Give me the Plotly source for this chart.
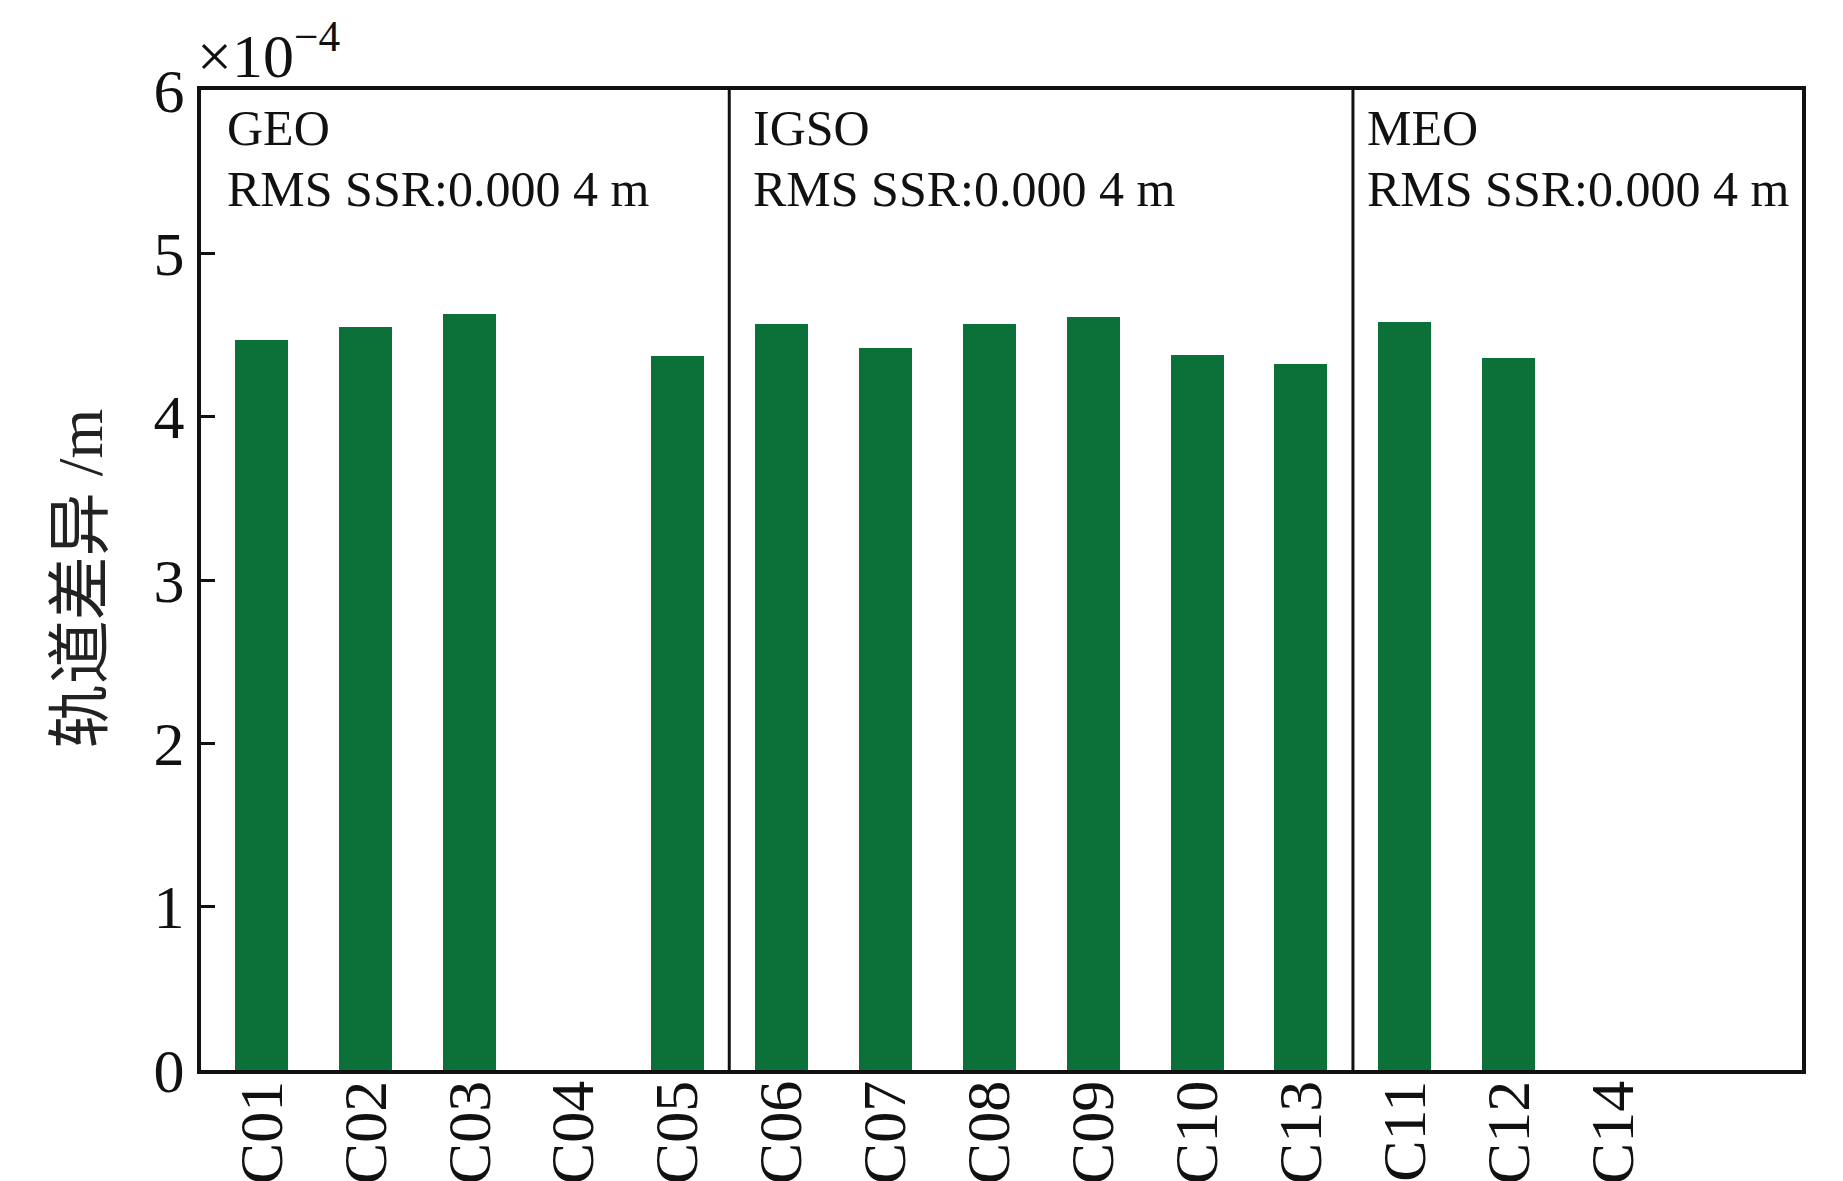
import plotly.graph_objects as go

satellites = ["C01", "C02", "C03", "C04", "C05", "C06", "C07", "C08", "C09", "C10", "C13", "C11", "C12", "C14"]
orbit_diff_e4 = [4.47, 4.55, 4.63, 0, 4.37, 4.57, 4.42, 4.57, 4.61, 4.38, 4.32, 4.58, 4.36, 0]
group_names = ["GEO", "IGSO", "MEO"]
group_rms = ["RMS SSR:0.000 4 m", "RMS SSR:0.000 4 m", "RMS SSR:0.000 4 m"]
group_label_x = [-0.355, 4.71, 10.615]
group_bounds = [4.5, 10.5]
y_ticks = [0, 1, 2, 3, 4, 5, 6]

serif = "Liberation Serif, Times New Roman, serif"
green = "#0b7139"

xpos = list(range(len(satellites)))

fig = go.Figure()
fig.add_trace(go.Bar(
    x=xpos, y=orbit_diff_e4, width=0.51,
    marker=dict(color=green, line=dict(width=0)),
    showlegend=False,
))

for b in group_bounds:
    fig.add_shape(type="line", xref="x", yref="paper", x0=b, x1=b, y0=0, y1=1,
                  line=dict(color="#111111", width=3))

for gx, name, rms in zip(group_label_x, group_names, group_rms):
    fig.add_annotation(x=gx, y=0.961, xref="x", yref="paper", text=name,
                       showarrow=False, xanchor="left", yanchor="middle",
                       font=dict(family=serif, size=50, color="#111111"))
    fig.add_annotation(x=gx, y=0.899, xref="x", yref="paper", text=rms,
                       showarrow=False, xanchor="left", yanchor="middle",
                       font=dict(family=serif, size=50, color="#111111"))

fig.add_annotation(x=-0.004, y=0.998, xref="paper", yref="paper",
                   text="×10<sup>−4</sup>", showarrow=False,
                   xanchor="left", yanchor="bottom",
                   font=dict(family=serif, size=62, color="#111111"))

fig.add_annotation(x=-0.0755, y=0.502, xref="paper", yref="paper",
                   text="轨道差异 /m", showarrow=False, textangle=-90,
                   xanchor="center", yanchor="middle",
                   font=dict(family="Liberation Serif, Noto Sans CJK SC, serif", size=64, color="#222222"))

fig.update_layout(
    width=1843, height=1181,
    margin=dict(l=193, r=49, t=82, b=119, autoexpand=False),
    plot_bgcolor="white", paper_bgcolor="white",
    bargap=0,
    xaxis=dict(
        range=[-0.582, 14.82], automargin=False,
        tickmode="array", tickvals=xpos, ticktext=satellites,
        tickangle=-90, ticks="", showgrid=False, zeroline=False,
        ticklabelstandoff=-18,
        showline=True, linecolor="#111111", linewidth=4, mirror=True,
        tickfont=dict(family=serif, size=62, color="#111111"),
    ),
    yaxis=dict(
        range=[0, 6], automargin=False,
        tickmode="array", tickvals=y_ticks, ticktext=[str(v) for v in y_ticks],
        ticks="inside", ticklen=14, tickwidth=3, tickcolor="#111111",
        showgrid=False, zeroline=False,
        showline=True, linecolor="#111111", linewidth=4, mirror=True,
        tickfont=dict(family=serif, size=62, color="#111111"),
    ),
)

fig.write_html("out.html")
